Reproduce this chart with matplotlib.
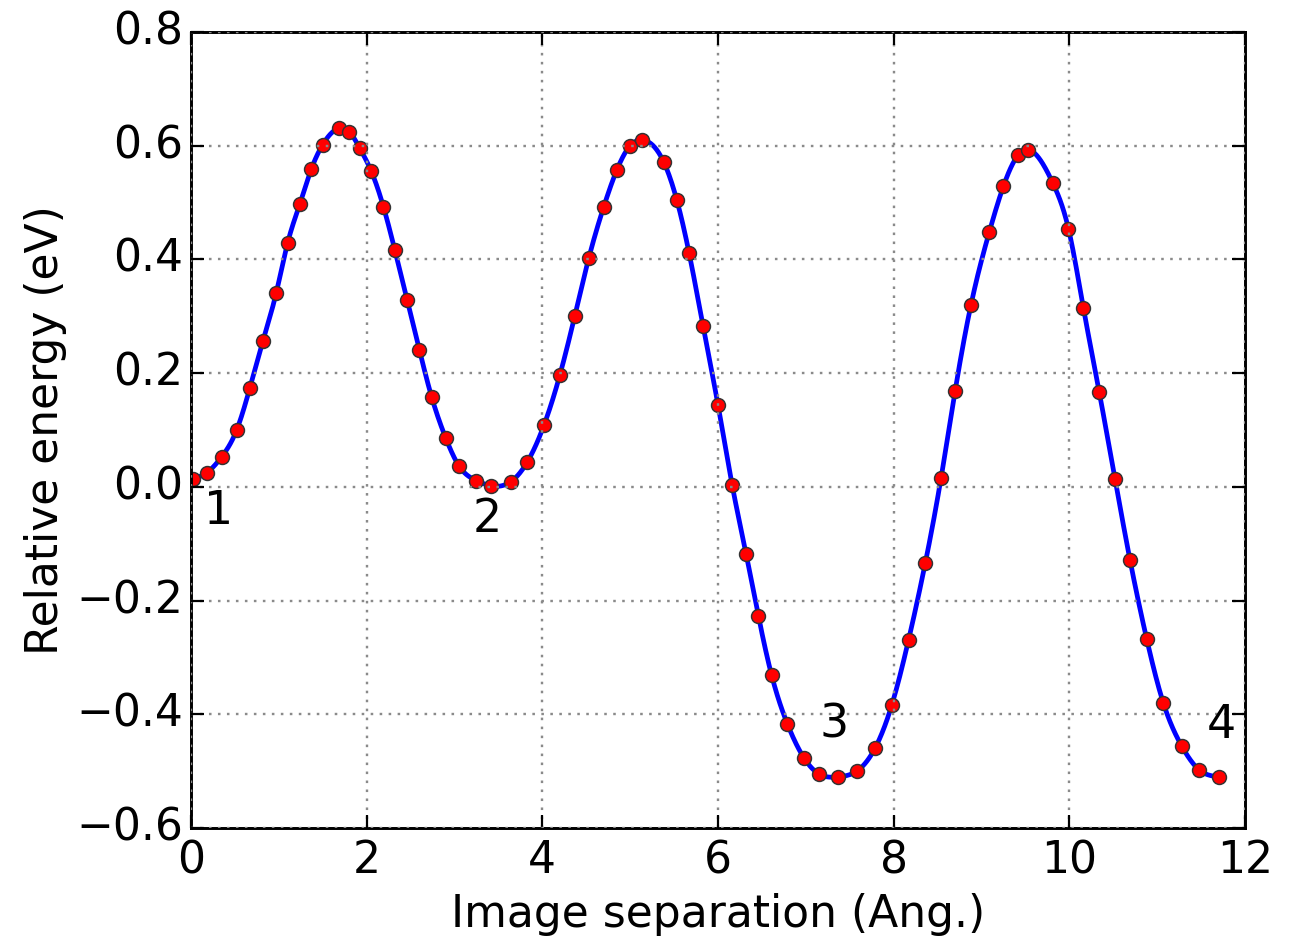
import numpy as np
import matplotlib
matplotlib.use("Agg")
import matplotlib.pyplot as plt

# Reaction path: cumulative image separation (Ang.) and relative energy (eV)
separation = [0.02, 0.18, 0.35, 0.52, 0.67, 0.82, 0.97, 1.10, 1.24, 1.37,
              1.50, 1.69, 1.80, 1.92, 2.05, 2.19, 2.32, 2.46, 2.60, 2.74,
              2.90, 3.05, 3.25, 3.41, 3.64, 3.83, 4.02, 4.20, 4.37, 4.53,
              4.70, 4.85, 5.00, 5.14, 5.38, 5.53, 5.67, 5.83, 6.00, 6.16,
              6.32, 6.46, 6.61, 6.79, 6.98, 7.15, 7.37, 7.58, 7.79, 7.98,
              8.17, 8.36, 8.54, 8.70, 8.88, 9.09, 9.25, 9.42, 9.53, 9.81,
              9.99, 10.16, 10.34, 10.52, 10.69, 10.88, 11.07, 11.28, 11.48, 11.70]
energy = [0.014, 0.025, 0.053, 0.100, 0.174, 0.257, 0.341, 0.429, 0.498, 0.559,
          0.602, 0.631, 0.625, 0.596, 0.556, 0.493, 0.417, 0.329, 0.241, 0.158,
          0.086, 0.037, 0.011, 0.002, 0.009, 0.044, 0.109, 0.197, 0.301, 0.403,
          0.493, 0.558, 0.600, 0.610, 0.572, 0.505, 0.412, 0.283, 0.144, 0.004,
          -0.118, -0.227, -0.331, -0.417, -0.477, -0.505, -0.510, -0.500, -0.459, -0.383,
          -0.269, -0.134, 0.016, 0.169, 0.320, 0.449, 0.529, 0.584, 0.593, 0.535,
          0.454, 0.315, 0.167, 0.014, -0.128, -0.267, -0.380, -0.456, -0.498, -0.510]

# Labels for the four minima
minimum_labels = ["1", "2", "3", "4"]
minimum_x = [0.31, 3.37, 7.32, 11.73]
minimum_y = [-0.044, -0.058, -0.419, -0.419]


def natural_spline(x, y, xs):
    """Evaluate a natural cubic spline through (x, y) at xs."""
    x = np.asarray(x, float)
    y = np.asarray(y, float)
    n = len(x)
    h = np.diff(x)
    A = np.zeros((n, n))
    b = np.zeros(n)
    A[0, 0] = A[-1, -1] = 1.0
    for i in range(1, n - 1):
        A[i, i - 1] = h[i - 1]
        A[i, i] = 2 * (h[i - 1] + h[i])
        A[i, i + 1] = h[i]
        b[i] = 3 * ((y[i + 1] - y[i]) / h[i] - (y[i] - y[i - 1]) / h[i - 1])
    c = np.linalg.solve(A, b)
    bb = (y[1:] - y[:-1]) / h - h * (2 * c[:-1] + c[1:]) / 3
    d = (c[1:] - c[:-1]) / (3 * h)
    idx = np.clip(np.searchsorted(x, xs) - 1, 0, n - 2)
    dx = xs - x[idx]
    return y[idx] + bb[idx] * dx + c[idx] * dx ** 2 + d[idx] * dx ** 3


plt.style.use("classic")
plt.rcParams["font.family"] = ["DejaVu Sans"]
plt.rcParams["lines.scale_dashes"] = False

fig = plt.figure(figsize=(1299 / 264, 942 / 264), dpi=264, facecolor="white")
ax = fig.add_axes([191 / 1299, 1 - 828 / 942, (1245 - 191) / 1299, (828 - 32) / 942])

xs = np.linspace(separation[0], separation[-1], 1500)
ax.plot(xs, natural_spline(separation, energy, xs), "-", color="#0000ff", lw=1.3)
ax.plot(separation, energy, "o", color="#ff0000", markersize=3.8,
        markeredgecolor="#333333", markeredgewidth=0.4)

for lab, tx, ty in zip(minimum_labels, minimum_x, minimum_y):
    ax.text(tx, ty, lab, ha="center", va="center", fontsize=12.5)

ax.set_xlim(0, 12)
ax.set_ylim(-0.6, 0.8)
ax.set_xticks(np.arange(0, 13, 2))
ax.set_yticks(np.arange(-0.6, 0.81, 0.2))
ax.grid(True, linestyle=(0, (0.7, 1.75)), color="#8a8a8a", lw=0.65)
ax.tick_params(direction="in", length=3.5, width=0.6, top=True, right=True, labelsize=12)
ax.tick_params(axis="y", pad=2.2)
ax.tick_params(axis="x", pad=3.0)
for s in ax.spines.values():
    s.set_linewidth(0.8)
ax.set_xlabel("Image separation (Ang.)", fontsize=12, labelpad=3)
ax.set_ylabel("Relative energy (eV)", fontsize=12, labelpad=2.5)

fig.savefig("out.png", dpi=264, facecolor="white")
